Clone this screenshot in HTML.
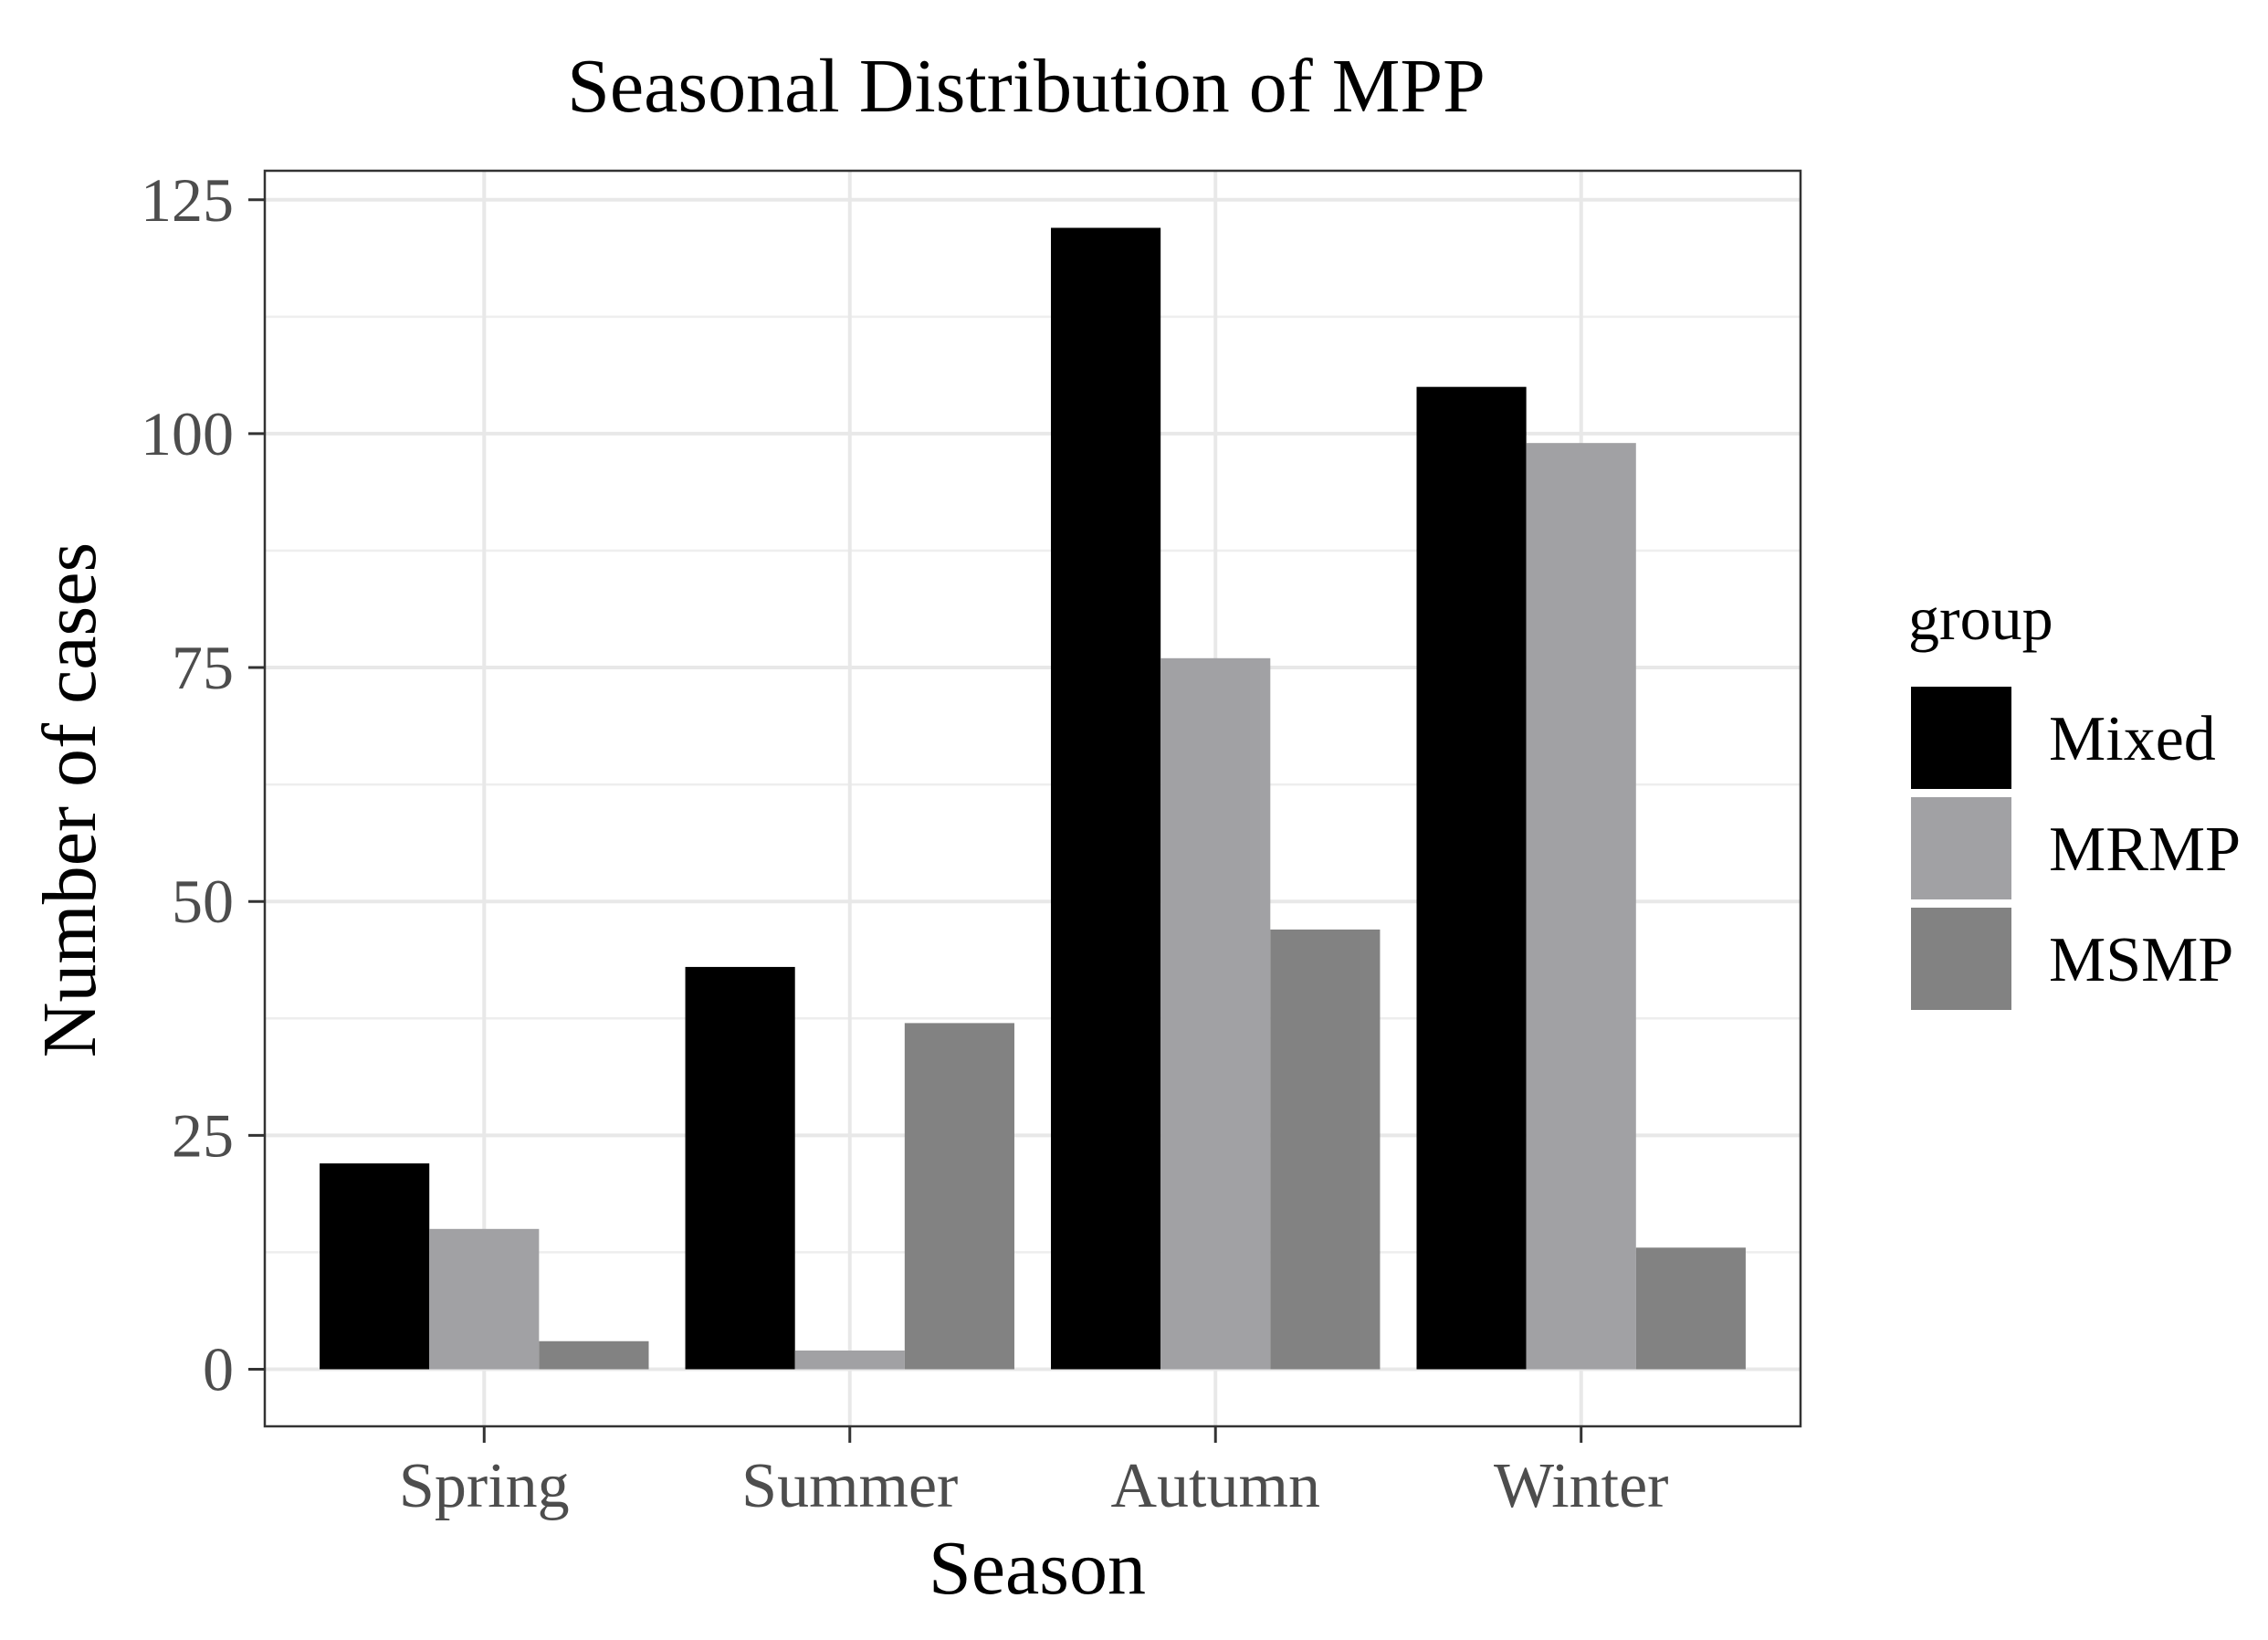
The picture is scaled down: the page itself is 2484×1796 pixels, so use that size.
<!DOCTYPE html>
<html><head><meta charset="utf-8"><style>
html,body{margin:0;padding:0;background:#fff}
svg{display:block}
text{font-family:"Liberation Serif",serif}
</style></head><body>
<svg id="chart" width="2484" height="1796" viewBox="0 0 2484 1796" xmlns="http://www.w3.org/2000/svg">
<rect width="2484" height="1796" fill="#fff"/>
<text x="1124" y="122" font-size="84" text-anchor="middle" fill="#000">Seasonal Distribution of MPP</text>
<g id="grid"></g>
<g id="bars"></g>
<rect x="290" y="187" width="1682" height="1375" fill="none" stroke="#333" stroke-width="2.5"/>
<g id="axes"></g>
<text x="1136" y="1745" font-size="84" text-anchor="middle" fill="#000">Season</text>
<text transform="translate(104,876) rotate(-90)" font-size="84" text-anchor="middle" fill="#000">Number of cases</text>
<g id="legend"></g>
</svg>
<script>
const categories = ["Spring","Summer","Autumn","Winter"];
const groups = ["Mixed","MRMP","MSMP"];
const mixedValues = [22,43,122,105];
const mrmpValues = [15,2,76,99];
const msmpValues = [3,37,47,13];
const yTicks = [0,25,50,75,100,125];
const colors = ["#000000","#a1a1a4","#828282"];
const series = [mixedValues, mrmpValues, msmpValues];

const NS = "http://www.w3.org/2000/svg";
const L=290,R=1972,T=187,B=1562;
const yMin=-6.1,yMax=128.1;
function yScale(v){return B-(v-yMin)/(yMax-yMin)*(B-T);}
function xScale(i){return L+(i+1-0.4)/(4.2)*(R-L);}
const band=(R-L)/4.2;
function mk(tag,attrs,parent){const e=document.createElementNS(NS,tag);for(const k in attrs)e.setAttribute(k,attrs[k]);parent.appendChild(e);return e;}

const grid=document.getElementById('grid');
mk('rect',{x:L,y:T,width:R-L,height:B-T,fill:'#fff'},grid);
for(let i=0;i<yTicks.length-1;i++){
  const v=(yTicks[i]+yTicks[i+1])/2;
  const ln=mk('line',{x1:L,x2:R,y1:yScale(v),y2:yScale(v),stroke:'#eeeeee','stroke-width':2.5},grid);
  
  
}
yTicks.forEach(v=>{
  const ln=mk('line',{x1:L,x2:R,y1:yScale(v),y2:yScale(v),stroke:'#e8e8e8','stroke-width':4},grid);
  
  
});
categories.forEach((c,i)=>{
  const ln=mk('line',{x1:xScale(i),x2:xScale(i),y1:T,y2:B,stroke:'#e8e8e8','stroke-width':4},grid);
  
  
});

const bars=document.getElementById('bars');
const bw=band*0.9/3;
categories.forEach((c,i)=>{
  series.forEach((s,j)=>{
    const x=xScale(i)-band*0.45+j*bw;
    const r=mk('rect',{x:x,y:yScale(s[i]),width:bw,height:yScale(0)-yScale(s[i]),fill:colors[j]},bars);
    
    
  });
});

const axes=document.getElementById('axes');
yTicks.forEach(v=>{
  const y=yScale(v);
  mk('line',{x1:L-18,x2:L,y1:y,y2:y,stroke:'#333','stroke-width':3},axes);
  const t=mk('text',{x:L-34,y:y+23,'font-size':68,'text-anchor':'end',fill:'#4d4d4d'},axes);
  t.textContent=v;
  
  
});
categories.forEach((c,i)=>{
  const x=xScale(i);
  mk('line',{x1:x,x2:x,y1:B,y2:B+18,stroke:'#333','stroke-width':3},axes);
  const t=mk('text',{x:x,y:1650,'font-size':70,'text-anchor':'middle',fill:'#4d4d4d'},axes);
  t.textContent=c;
  
  
});

const lg=document.getElementById('legend');
const lt=mk('text',{x:2090,y:700,'font-size':68,fill:'#000'},lg);
lt.textContent='group';


groups.forEach((g,j)=>{
  const y=752+j*121;
  const r=mk('rect',{x:2093,y:y,width:110,height:112,fill:colors[j]},lg);
  
  
  const t=mk('text',{x:2244,y:y+80,'font-size':70,fill:'#000'},lg);
  t.textContent=g;
  
  
});
</script>
</body></html>
